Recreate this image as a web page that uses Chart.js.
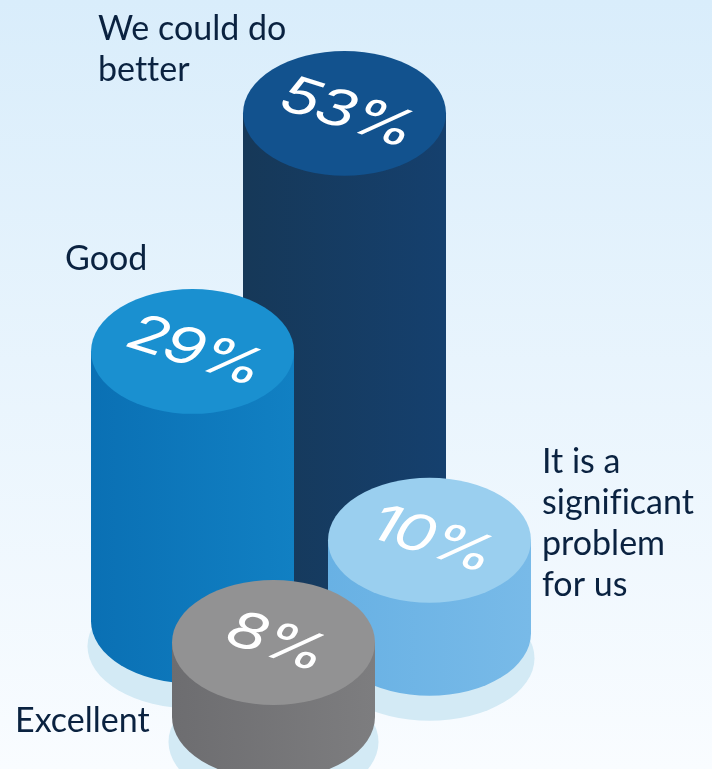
<!DOCTYPE html>
<html>
<head>
<meta charset="utf-8">
<style>
  html, body { margin: 0; padding: 0; background: #fff; overflow: hidden; }
  #wrap { width: 712px; height: 769px; }
</style>
<script src="https://cdn.jsdelivr.net/npm/chart.js@4/dist/chart.umd.min.js"></script>
</head>
<body>
<div id="wrap"><canvas id="chart" width="712" height="769"></canvas></div>
<script>
// Survey answers, drawn back to front
const categories = [["We could do", "better"], ["Good"], ["It is a", "significant", "problem", "for us"], ["Excellent"]];
const shares = [53, 29, 10, 8];
// Where each cylinder stands on the isometric floor
const floorAcross = [344.5, 192.5, 429.5, 273.5];
const floorRise = [17.5, 15.9, 14.6, 5.6];

const topColors = ["#12528e", "#1a90d0", "#9acfef", "#929293"];
const sideLeftColors = ["#163858", "#0a70b4", "#68b1e4", "#6d6d70"];
const sideRightColors = ["#15406e", "#1180c3", "#78bae8", "#7d7d7f"];

const SQUASH = 0.615;      // ellipse height / width of a cylinder's top
const LID_PRINT = [0.89, 0.28, -0.39, 0.65]; // affine axes of text lying on a lid
const SHADOW_COLOR = "#d3eaf5";
const INK = "#0a2240";
const labelAnchors = [[98, 40], [65, 270], [542, 473], [15, 732]];
const LABEL_LEADING = 41;

class CylinderElement extends Chart.BarElement {
  static id = "cylinder";
  draw(ctx) {
    const i = this.slot;
    const rx = this.width / 2, ry = rx * SQUASH;
    const cx = this.x, top = this.y, base = this.base;

    // floor shadow
    ctx.fillStyle = SHADOW_COLOR;
    ctx.beginPath();
    ctx.ellipse(cx, base + 25, rx + 3.5, ry, 0, 0, Math.PI * 2);
    ctx.fill();

    // side wall
    const side = ctx.createLinearGradient(cx - rx, 0, cx + rx, 0);
    side.addColorStop(0, sideLeftColors[i]);
    side.addColorStop(1, sideRightColors[i]);
    ctx.fillStyle = side;
    ctx.beginPath();
    ctx.moveTo(cx - rx, top);
    ctx.lineTo(cx - rx, base);
    ctx.ellipse(cx, base, rx, ry, 0, Math.PI, 0, true);
    ctx.lineTo(cx + rx, top);
    ctx.closePath();
    ctx.fill();

    // lid
    ctx.fillStyle = topColors[i];
    ctx.beginPath();
    ctx.ellipse(cx, top, rx, ry, 0, 0, Math.PI * 2);
    ctx.fill();

    // value printed flat on the lid
    ctx.save();
    ctx.translate(cx + 2, top);
    ctx.transform(LID_PRINT[0], LID_PRINT[1], LID_PRINT[2], LID_PRINT[3], 0, 0);
    ctx.fillStyle = "#ffffff";
    ctx.font = "400 70px Inter, Lato, sans-serif";
    ctx.letterSpacing = "-3px";
    ctx.textAlign = "center";
    ctx.textBaseline = "middle";
    ctx.fillText(shares[i] + "%", 0, 0);
    ctx.restore();
  }
}
CylinderElement.defaults = Object.assign({}, Chart.BarElement.defaults);

class CylinderController extends Chart.BarController {
  static id = "cylinder";
  static defaults = Object.assign({}, Chart.BarController.defaults, { dataElementType: "cylinder" });
  static overrides = Chart.BarController.overrides;
  updateElements(rects, start, count, mode) {
    super.updateElements(rects, start, count, mode);
    for (let i = start; i < start + count; i++) rects[i].slot = i;
  }
}
Chart.register(CylinderElement, CylinderController);

const backdrop = {
  id: "backdrop",
  beforeDraw(chart) {
    const { ctx, width, height } = chart;
    const g = ctx.createLinearGradient(0, 0, 0, height);
    g.addColorStop(0, "#d9edfb");
    g.addColorStop(1, "#f9fcff");
    ctx.fillStyle = g;
    ctx.fillRect(0, 0, width, height);
  }
};

const answerLabels = {
  id: "answerLabels",
  afterDatasetsDraw(chart) {
    const ctx = chart.ctx;
    ctx.save();
    ctx.fillStyle = INK;
    ctx.font = "34px Lato, sans-serif";
    ctx.letterSpacing = "0.01px";
    ctx.textAlign = "left";
    ctx.textBaseline = "alphabetic";
    categories.forEach((lines, i) => {
      lines.forEach((line, k) => {
        ctx.fillText(line, labelAnchors[i][0], labelAnchors[i][1] + k * LABEL_LEADING);
      });
    });
    ctx.restore();
  }
};

new Chart(document.getElementById("chart"), {
  type: "cylinder",
  data: {
    datasets: [{
      data: shares.map((v, i) => ({ x: floorAcross[i], y: [floorRise[i], floorRise[i] + v] })),
      barThickness: 203
    }]
  },
  plugins: [backdrop, answerLabels],
  options: {
    responsive: false,
    animation: false,
    layout: { padding: 0 },
    plugins: { legend: { display: false }, tooltip: { enabled: false } },
    scales: {
      x: { type: "linear", min: 0, max: 712, offset: false, display: false },
      y: { type: "linear", min: 0, max: 82.69, display: false }
    }
  }
});
</script>
</body>
</html>
